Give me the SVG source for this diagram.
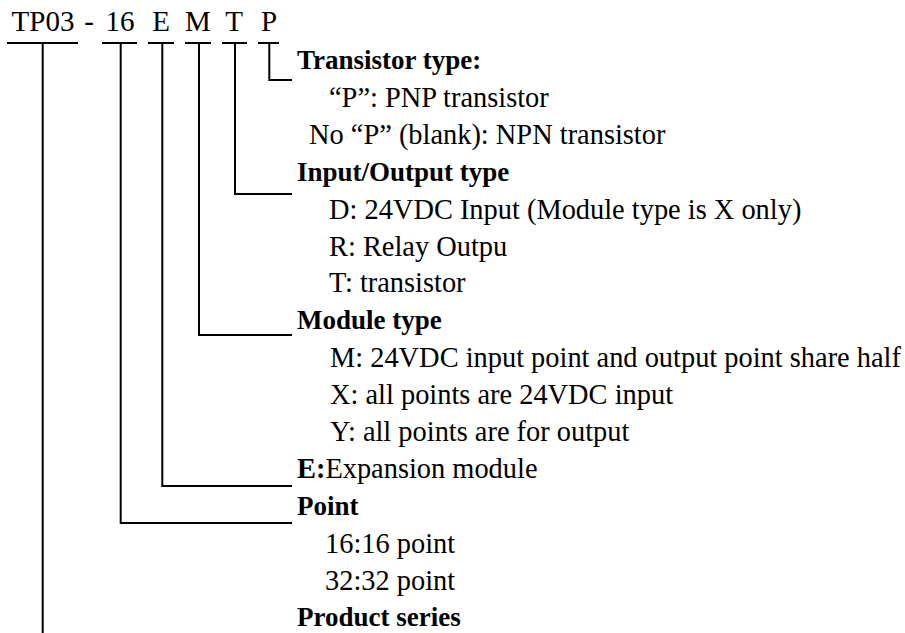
<svg xmlns="http://www.w3.org/2000/svg" width="905" height="633" viewBox="0 0 905 633">
<style>
.t{font-size:28.4px;fill:#000}
.b{font-size:27px;font-weight:bold;fill:#000}
.h{font-size:29px;fill:#000;text-anchor:middle}
.c{stroke:#000;stroke-width:2;fill:none}
</style>
<rect width="905" height="633" fill="#fff"/>
<g font-family="'Liberation Serif', 'Times New Roman', 'DejaVu Serif', serif">
<g id="code">
<text class="h" x="43" y="31">TP03</text>
<text class="h" x="89" y="31">-</text>
<text class="h" x="120" y="31">16</text>
<text class="h" x="161" y="31">E</text>
<text class="h" x="198" y="31">M</text>
<text class="h" x="234" y="31">T</text>
<text class="h" x="269" y="31">P</text>
</g>
<g id="connectors">
<path class="c" d="M7 43H78M102 43H137M148 43H174M185 43H211M222 43H247M258 43H279"/>
<path class="c" d="M269.3 43V80H292"/>
<path class="c" d="M235 43V194H292"/>
<path class="c" d="M199 43V335H292"/>
<path class="c" d="M162.3 43V486H292"/>
<path class="c" d="M120.7 43V523H292"/>
<path class="c" d="M42.7 43V633"/>
</g>
<g id="transistor-type">
<text class="b" x="297" y="69">Transistor type:</text>
<text class="t" x="329" y="107">“P”: PNP transistor</text>
<text class="t" x="309" y="144">No “P” (blank): NPN transistor</text>
</g>
<g id="io-type">
<text class="b" x="297" y="181">Input/Output type</text>
<text class="t" x="329" y="219">D: 24VDC Input (Module type is X only)</text>
<text class="t" x="329" y="256">R: Relay Outpu</text>
<text class="t" x="329" y="292">T: transistor</text>
</g>
<g id="module-type">
<text class="b" x="297" y="329">Module type</text>
<text class="t" x="330" y="367">M: 24VDC input point and output point share half</text>
<text class="t" x="330" y="404">X: all points are 24VDC input</text>
<text class="t" x="330" y="441">Y: all points are for output</text>
</g>
<g id="expansion">
<text class="t" x="297" y="478"><tspan font-weight="bold">E:</tspan>Expansion module</text>
</g>
<g id="point">
<text class="b" x="297" y="515">Point</text>
<text class="t" x="325" y="553">16:16 point</text>
<text class="t" x="325" y="590">32:32 point</text>
</g>
<g id="product-series">
<text class="b" x="297" y="626">Product series</text>
</g>
</g>
</svg>
